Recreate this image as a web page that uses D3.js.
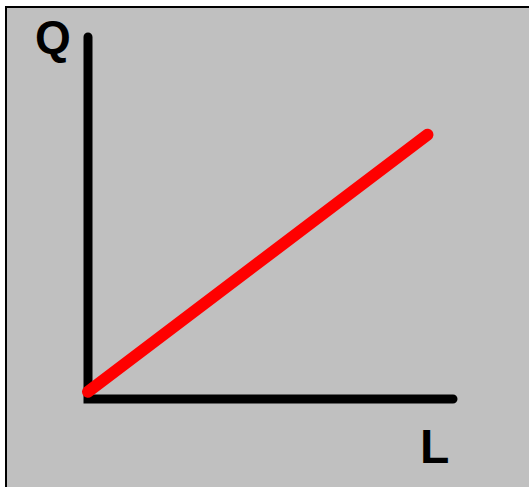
<!DOCTYPE html>
<html>
<head>
<meta charset="utf-8">
<script src="https://cdn.jsdelivr.net/npm/d3@7"></script>
<style>
  body { margin: 0; background: #fff; }
  svg { display: block; }
</style>
</head>
<body>
<div id="chart"></div>
<script>
// axis extents and the production line (L, Q)
var axisL = [0, 10];
var axisQ = [0, 10];
var lineL = [0, 9.3];
var lineQ = [0.2, 7.3];
var labels = { x: "L", y: "Q" };

var width = 529;
var height = 487;

var svg = d3.select("#chart")
  .append("svg")
  .attr("width", width)
  .attr("height", height);

// grey panel with a dark frame (runs off right/bottom edges)
svg.append("rect")
  .attr("x", 6)
  .attr("y", 7)
  .attr("width", 540)
  .attr("height", 500)
  .attr("fill", "#c0c0c0")
  .attr("stroke", "#000")
  .attr("stroke-width", 2);

var xScale = d3.scaleLinear().domain(axisL).range([88, 453]);
var yScale = d3.scaleLinear().domain(axisQ).range([399, 37]);

// axes: one path, square corner at origin, round ends
var axisPts = [
  [axisL[0], axisQ[1]],
  [axisL[0], axisQ[0]],
  [axisL[1], axisQ[0]]
];
svg.append("path")
  .datum(axisPts)
  .attr("d", d3.line().x(d => xScale(d[0])).y(d => yScale(d[1])))
  .attr("fill", "none")
  .attr("stroke", "#000")
  .attr("stroke-width", 9)
  .attr("stroke-linecap", "round")
  .attr("stroke-linejoin", "miter");

var linePts = lineL.map((l, i) => [l, lineQ[i]]);
svg.append("path")
  .datum(linePts)
  .attr("d", d3.line().x(d => xScale(d[0])).y(d => yScale(d[1])))
  .attr("fill", "none")
  .attr("stroke", "#ff0000")
  .attr("stroke-width", 12)
  .attr("stroke-linecap", "round");

svg.append("text")
  .attr("x", 35)
  .attr("y", 53)
  .style("font-family", "'Liberation Sans', Arial, sans-serif")
  .style("font-weight", "bold")
  .style("font-size", "46px")
  .text(labels.y);

svg.append("text")
  .attr("x", 420)
  .attr("y", 463)
  .style("font-family", "'Liberation Sans', Arial, sans-serif")
  .style("font-weight", "bold")
  .style("font-size", "48px")
  .text(labels.x);
</script>
</body>
</html>
